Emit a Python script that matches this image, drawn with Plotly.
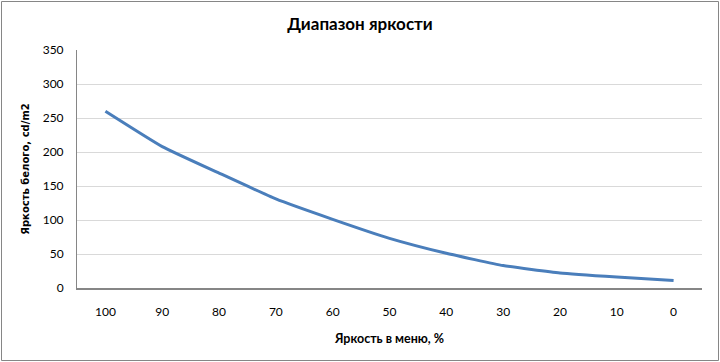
import plotly.graph_objects as go

menu_brightness = ["100", "90", "80", "70", "60", "50", "40", "30", "20", "10", "0"]
white_luminance = [260, 208, 169, 131, 101, 73, 51, 33, 22, 16, 11]

W, H = 720, 362
ml, mr, mt, mb = 77, 18, 50, 74
pw, ph = W - ml - mr, H - mt - mb

fig = go.Figure()
fig.add_trace(go.Scatter(
    x=menu_brightness, y=white_luminance, mode="lines",
    line=dict(color="#4a7ebb", width=3, shape="spline", smoothing=0.4),
    showlegend=False, hoverinfo="skip"))

def px_x(p):
    return (p - ml) / pw

def px_y(p):
    return (H - mb - p) / ph

fig.update_layout(
    width=W, height=H,
    margin=dict(l=ml, r=mr, t=mt, b=mb),
    paper_bgcolor="white", plot_bgcolor="white",
    font=dict(family="Lato, Open Sans, sans-serif", size=12, color="#000000"),
    title=dict(text="<b>Диапазон яркости</b>", x=0.5, xanchor="center",
               y=1 - 24 / H, yanchor="middle",
               font=dict(size=17, family="Lato, Open Sans, sans-serif")),
    xaxis=dict(type="category", range=[-0.5, 10.5], showgrid=False,
               showline=True, linecolor="#868686", linewidth=1.5,
               ticks="", tickfont=dict(size=12), ticklabelstandoff=12,
               title=dict(text="<b>Яркость в меню, %</b>", standoff=16,
                          font=dict(size=12.5))),
    yaxis=dict(range=[0, 350], dtick=50, showgrid=True, gridcolor="#d9d9d9",
               gridwidth=1, zeroline=False, showline=True, linecolor="#868686",
               linewidth=1, ticks="", tickfont=dict(size=12),
               ticklabelstandoff=10,
               title=dict(text="<b>Яркость белого, cd/m2</b>", standoff=11,
                          font=dict(size=10, family="DejaVu Sans"))),
)

fig.add_shape(type="rect", xref="paper", yref="paper",
              x0=px_x(1.5), x1=px_x(W - 1.5), y0=px_y(H - 1.5), y1=px_y(1.5),
              line=dict(color="#868686", width=1), fillcolor="rgba(0,0,0,0)",
              layer="below")

fig.write_html("out.html")
